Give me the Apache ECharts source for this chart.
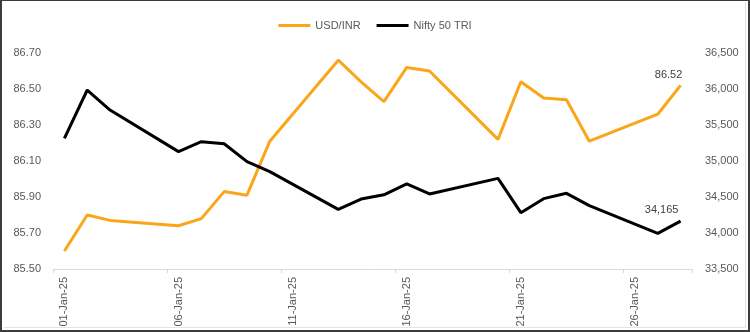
<!DOCTYPE html>
<html>
<head>
<meta charset="utf-8">
<script src="https://cdn.jsdelivr.net/npm/echarts@6/dist/echarts.min.js"></script>
<style>
html,body{margin:0;padding:0;background:#fff;}
#wrap{position:relative;width:750px;height:332px;}
#chart{position:absolute;left:0;top:0;width:750px;height:332px;}
#frame{position:absolute;left:0;top:0;width:750px;height:332px;box-sizing:border-box;
  border-left:2px solid #3c3c3c;border-top:1px solid #3c3c3c;border-right:2px solid #3c3c3c;border-bottom:2px solid #3c3c3c;pointer-events:none;}
#inner{position:absolute;left:2px;top:1px;right:2px;bottom:2px;border-right:1px solid #e4e4e4;border-bottom:1px solid #e4e4e4;}
</style>
</head>
<body>
<div id="wrap"><div id="chart"></div><div id="frame"><div id="inner"></div></div></div>
<script>
const categories = ['01-Jan-25','02-Jan-25','03-Jan-25','04-Jan-25','05-Jan-25','06-Jan-25','07-Jan-25',
  '08-Jan-25','09-Jan-25','10-Jan-25','11-Jan-25','12-Jan-25','13-Jan-25','14-Jan-25',
  '15-Jan-25','16-Jan-25','17-Jan-25','18-Jan-25','19-Jan-25','20-Jan-25','21-Jan-25',
  '22-Jan-25','23-Jan-25','24-Jan-25','25-Jan-25','26-Jan-25','27-Jan-25','28-Jan-25'];
const usdInr = [85.60, 85.80, 85.77, null, null, 85.74, 85.78,
  85.93, 85.91, 86.21, null, null, 86.66, 86.54,
  86.43, 86.62, 86.60, null, null, 86.22, 86.54,
  86.45, 86.44, 86.21, null, null, 86.36, 86.52];
const nifty50Tri = [35315, 35986, 35708, null, null, 35130, 35269,
  35240, 34991, 34852, null, null, 34329, 34472,
  34530, 34681, 34542, null, null, 34759, 34282,
  34477, 34551, 34380, null, null, 33995, 34165];
const leftTicks = [85.50, 85.70, 85.90, 86.10, 86.30, 86.50, 86.70];
const rightTicks = [33500, 34000, 34500, 35000, 35500, 36000, 36500];

const FONT = '"Liberation Sans", Arial, sans-serif';
const LABEL_COLOR = '#595959';

const chart = echarts.init(document.getElementById('chart'), null, {renderer: 'canvas'});
chart.setOption({
  backgroundColor: '#ffffff',
  animation: false,
  legend: {
    data: ['USD/INR', 'Nifty 50 TRI'],
    top: 15,
    left: 'center',
    icon: 'rect',
    itemWidth: 32,
    itemHeight: 3,
    itemGap: 16,
    textStyle: {color: LABEL_COLOR, fontSize: 11, fontFamily: FONT}
  },
  grid: {left: 53, right: 58, top: 53, bottom: 63, containLabel: false},
  xAxis: {
    type: 'category',
    data: categories,
    boundaryGap: true,
    axisLine: {lineStyle: {color: '#d9d9d9', width: 1}},
    axisTick: {show: true, interval: 4, length: 4, lineStyle: {color: '#d9d9d9'}},
    axisLabel: {interval: 4, rotate: 90, margin: 8, color: LABEL_COLOR, fontSize: 11, fontFamily: FONT},
    splitLine: {show: false}
  },
  yAxis: [
    {
      type: 'value',
      min: leftTicks[0],
      max: leftTicks[leftTicks.length - 1],
      interval: 0.1,
      axisLine: {show: false},
      axisTick: {show: false},
      splitLine: {show: false},
      axisLabel: {
        margin: 12,
        color: LABEL_COLOR, fontSize: 11, fontFamily: FONT,
        formatter: (v) => {
          const hit = leftTicks.find(t => Math.abs(t - v) < 1e-6);
          return hit !== undefined ? hit.toFixed(2) : '';
        }
      }
    },
    {
      type: 'value',
      min: rightTicks[0],
      max: rightTicks[rightTicks.length - 1],
      interval: 500,
      axisLine: {show: false},
      axisTick: {show: false},
      splitLine: {show: false},
      axisLabel: {
        margin: 13,
        color: LABEL_COLOR, fontSize: 11, fontFamily: FONT,
        formatter: (v) => v.toLocaleString('en-US')
      }
    }
  ],
  series: [
    {
      name: 'USD/INR',
      type: 'line',
      yAxisIndex: 0,
      data: usdInr,
      connectNulls: true,
      symbol: 'none',
      color: '#FAA61A',
      lineStyle: {width: 3, color: '#FAA61A'},
      endLabel: {
        show: true,
        distance: 0,
        align: 'center',
        verticalAlign: 'bottom',
        offset: [-12, -5],
        color: '#404040', fontSize: 11, fontFamily: FONT,
        formatter: (p) => Number(p.value).toFixed(2)
      },
      z: 2
    },
    {
      name: 'Nifty 50 TRI',
      type: 'line',
      yAxisIndex: 1,
      data: nifty50Tri,
      connectNulls: true,
      symbol: 'none',
      color: '#000000',
      lineStyle: {width: 3, color: '#000000'},
      endLabel: {
        show: true,
        distance: 0,
        align: 'center',
        verticalAlign: 'bottom',
        offset: [-19, -6],
        color: '#404040', fontSize: 11, fontFamily: FONT,
        formatter: (p) => Number(p.value).toLocaleString('en-US')
      },
      z: 3
    }
  ]
});
</script>
</body>
</html>
